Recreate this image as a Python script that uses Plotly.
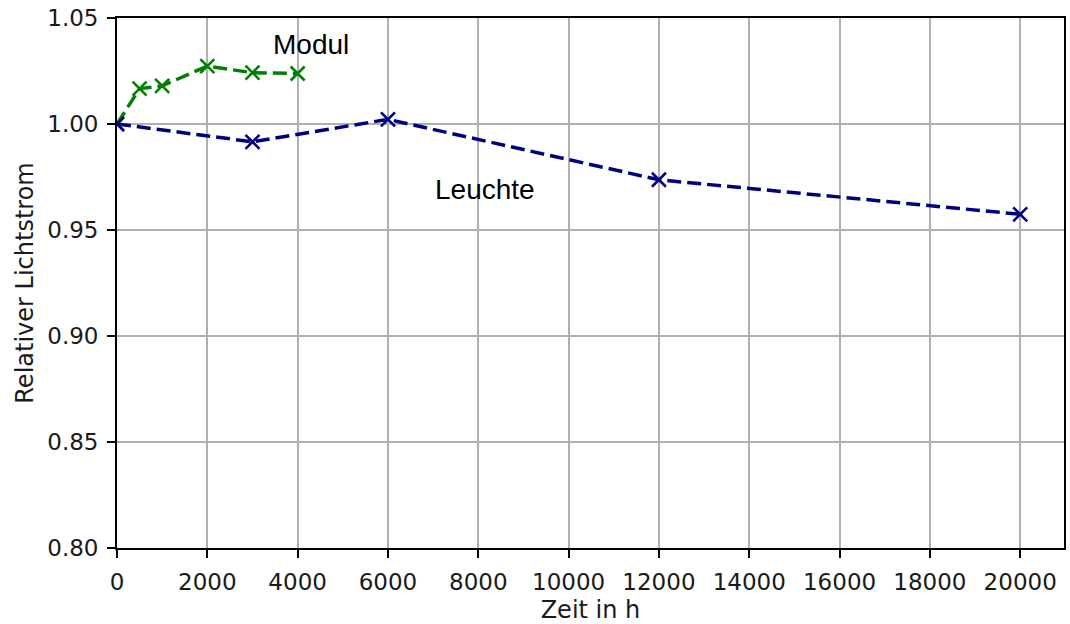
import plotly.graph_objects as go

modul_x = [0, 500, 1000, 2000, 3000, 4000]
modul_y = [1.000, 1.0167, 1.018, 1.0273, 1.0242, 1.0238]
leuchte_x = [0, 3000, 6000, 12000, 20000]
leuchte_y = [1.000, 0.9916, 1.0022, 0.9737, 0.9574]

x_ticks = list(range(0, 20001, 2000))
y_ticks = [0.80, 0.85, 0.90, 0.95, 1.00, 1.05]

TICK_FONT = dict(family="DejaVu Sans", size=23, color="#1a1a1a")
TITLE_FONT = dict(family="DejaVu Sans", size=24, color="#1a1a1a")
ANN_FONT = dict(family="Liberation Sans, Arial", size=28, color="black")

fig = go.Figure()
fig.add_trace(go.Scatter(
    x=modul_x, y=modul_y, mode="lines+markers", name="Modul",
    line=dict(color="#008000", width=3.5, dash="14px,6px"),
    marker=dict(symbol="x-thin", size=14, line=dict(color="#008000", width=2.6)),
))
fig.add_trace(go.Scatter(
    x=leuchte_x, y=leuchte_y, mode="lines+markers", name="Leuchte",
    line=dict(color="#000080", width=3.5, dash="14px,6px"),
    marker=dict(symbol="x-thin", size=14, line=dict(color="#000080", width=2.6)),
))

fig.add_annotation(x=3400, y=1.0377, text="Modul", showarrow=False, xanchor="left",
                   font=ANN_FONT)
fig.add_annotation(x=7005, y=0.9691, text="Leuchte", showarrow=False, xanchor="left",
                   font=ANN_FONT)

axis_common = dict(
    showline=True, linecolor="black", linewidth=1.8, mirror=True,
    showgrid=True, gridcolor="#b0b0b0", gridwidth=1.8,
    ticks="outside", ticklen=8, tickwidth=1.8, tickcolor="black",
    tickfont=TICK_FONT, ticklabelstandoff=4,
    zeroline=False,
)

fig.update_xaxes(range=[0, 20970], tickvals=x_ticks, ticktext=[str(v) for v in x_ticks],
                 title=dict(text="Zeit in h", font=TITLE_FONT, standoff=8),
                 **axis_common)
fig.update_yaxes(range=[0.80, 1.05], tickvals=y_ticks, ticktext=[f"{v:.2f}" for v in y_ticks],
                 title=dict(text="Relativer Lichtstrom", font=TITLE_FONT, standoff=7),
                 **axis_common)

fig.update_layout(
    width=1070, height=624,
    margin=dict(l=117, r=4, t=18, b=76),
    paper_bgcolor="white", plot_bgcolor="white",
    showlegend=False,
)

fig.write_html("out.html")
